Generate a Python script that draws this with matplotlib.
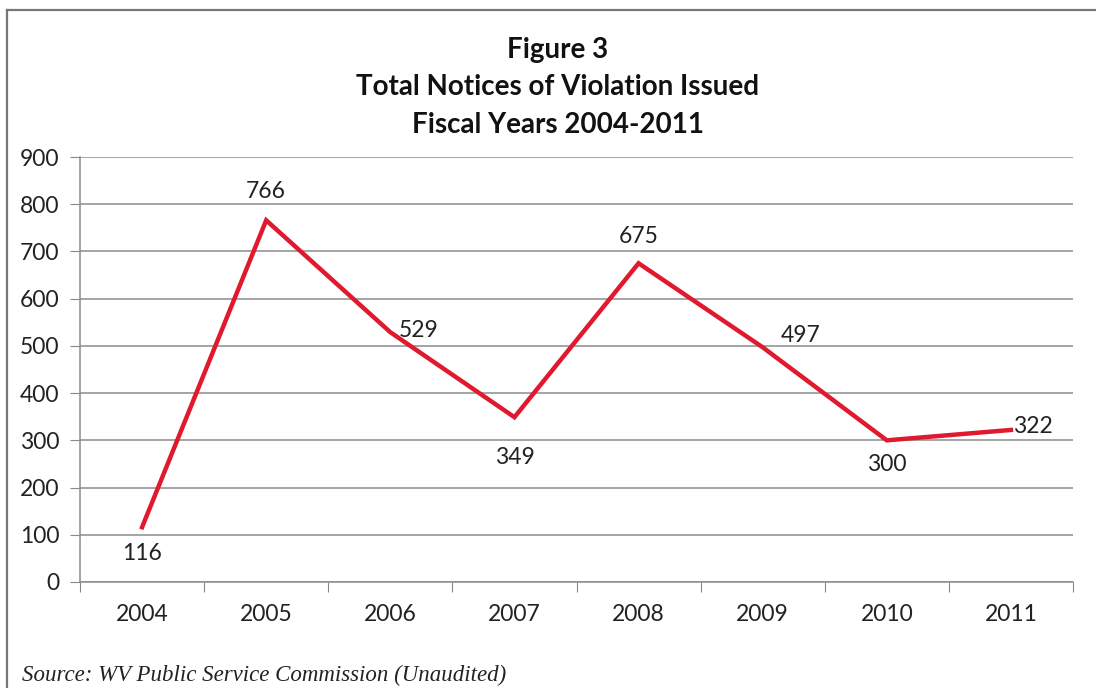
import matplotlib
matplotlib.use('Agg')
import matplotlib.pyplot as plt
from matplotlib.lines import Line2D

YEARS = ['2004', '2005', '2006', '2007', '2008', '2009', '2010', '2011']
NOTICES = [116, 766, 529, 349, 675, 497, 300, 322]
# label placement per point: (dx px, dy px, ha, va)
LABEL_POS = [(0, -16, 'center', 'top'), (0, 18, 'center', 'bottom'),
             (8, 2, 'left', 'center'), (0, -30, 'center', 'top'),
             (0, 16, 'center', 'bottom'), (18, 12, 'left', 'center'),
             (0, -14, 'center', 'top'), (2, 3, 'left', 'center')]

plt.rcParams['font.family'] = ['Lato', 'DejaVu Sans']

fig = plt.figure(figsize=(10.96, 6.88), dpi=100)
ax = fig.add_axes([80 / 1096, 1 - 582 / 688, 993 / 1096, 425 / 688])

x = list(range(len(YEARS)))
ax.plot(x, NOTICES, color='#e0192f', linewidth=3.2, solid_joinstyle='miter')

for xi, v, (dx, dy, ha, va) in zip(x, NOTICES, LABEL_POS):
    ax.annotate(str(v), (xi, v), xytext=(dx * 0.72, dy * 0.72), textcoords='offset points',
                ha=ha, va=va, fontsize=16.5, color='#222222')

ax.set_xlim(-0.5, len(YEARS) - 0.5)
ax.set_ylim(0, 900)
ax.set_yticks(range(0, 901, 100))
ax.set_xticks([i - 0.5 for i in range(len(YEARS) + 1)], minor=False)
ax.set_xticklabels([])
ax.set_xticks(x, minor=True)
ax.set_xticklabels(YEARS, minor=True)
ax.tick_params(axis='x', which='major', direction='out', length=7, color='#888888')
ax.tick_params(axis='x', which='minor', length=0, pad=16, labelsize=16.5, labelcolor='#222222')
ax.tick_params(axis='y', direction='out', length=7, color='#888888', pad=8,
               labelsize=16.5, labelcolor='#222222')
ax.grid(axis='y', color='#8c8c8c', linewidth=1.1)
ax.set_axisbelow(True)
for s in ['top', 'right']:
    ax.spines[s].set_visible(False)
for s in ['left', 'bottom']:
    ax.spines[s].set_color('#8c8c8c')
    ax.spines[s].set_linewidth(1.1)

fig.text(558 / 1096, 1 - 50 / 688, 'Figure 3', ha='center', va='center',
         fontsize=20, fontweight='bold', color='#111111')
fig.text(558 / 1096, 1 - 87 / 688, 'Total Notices of Violation Issued', ha='center', va='center',
         fontsize=20, fontweight='bold', color='#111111')
fig.text(558 / 1096, 1 - 125 / 688, 'Fiscal Years 2004-2011', ha='center', va='center',
         fontsize=20, fontweight='bold', color='#111111')

fig.text(22 / 1096, 1 - 675 / 688, 'Source: WV Public Service Commission (Unaudited)',
         ha='left', va='center', fontsize=16.5, style='italic',
         family=['Liberation Serif', 'DejaVu Serif'], color='#222222')

# outer frame (top and left edges visible in the reference)
fig.add_artist(Line2D([7 / 1096, 1.0], [1 - 10 / 688] * 2, color='#777777', linewidth=1.6))
fig.add_artist(Line2D([7 / 1096] * 2, [0.0, 1 - 10 / 688], color='#777777', linewidth=1.6))

fig.savefig('out.png', dpi=100)
